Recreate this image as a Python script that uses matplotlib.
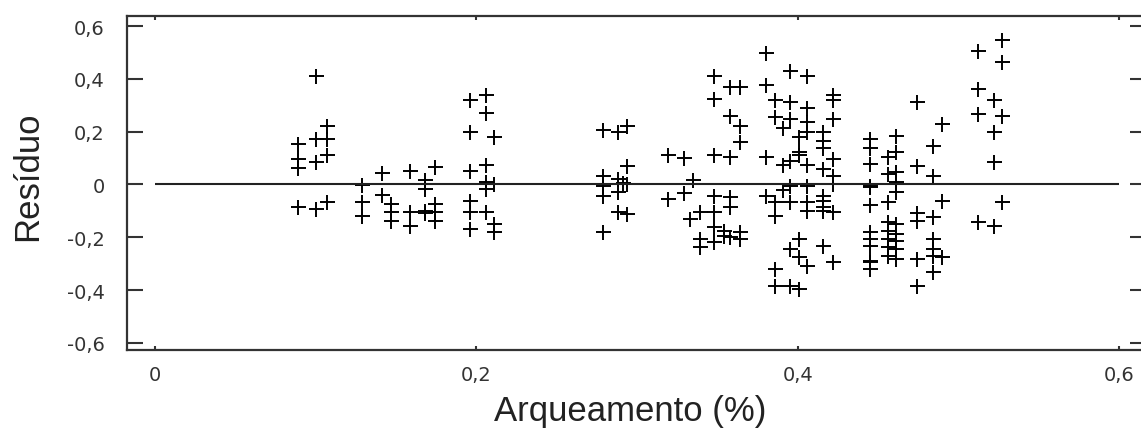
import numpy as np
import matplotlib
matplotlib.use("Agg")
import matplotlib.pyplot as plt

# residues grouped by arching column (x value, list of residues)
col_x = [0.089, 0.100, 0.107, 0.129, 0.141, 0.147, 0.159, 0.168, 0.174,
         0.196, 0.206, 0.211,
         0.279, 0.288, 0.291, 0.294,
         0.319, 0.329, 0.333, 0.335, 0.339, 0.348, 0.354, 0.358, 0.364,
         0.380, 0.386, 0.391, 0.395, 0.401, 0.406, 0.416, 0.422,
         0.445, 0.456, 0.461, 0.474, 0.484, 0.490,
         0.512, 0.522, 0.527]
col_res = [
    [0.153, 0.097, 0.061, -0.086],
    [0.412, 0.172, 0.086, -0.093],
    [0.223, 0.172, 0.112, -0.067],
    [-0.002, -0.065, -0.120],
    [0.044, -0.040],
    [-0.074, -0.105, -0.137],
    [0.050, -0.105, -0.156],
    [0.015, -0.017, -0.099, -0.110],
    [0.067, -0.074, -0.105, -0.137],
    [0.318, 0.198, 0.050, -0.063, -0.103, -0.167],
    [0.337, 0.270, 0.072, 0.008, -0.017, -0.105],
    [0.179, 0.002, -0.150, -0.179],
    [0.207, 0.033, -0.004, -0.042, -0.181],
    [0.200, 0.021, -0.027, -0.105],
    [0.007],
    [0.223, 0.071, 0.002, -0.112],
    [0.110, -0.055],
    [0.101, -0.034],
    [-0.131],
    [0.015],
    [-0.105, -0.206, -0.238],
    [0.412, 0.325, 0.110, -0.042, -0.105, -0.162, -0.219],
    [-0.175, -0.194],
    [0.368, 0.258, 0.103, -0.048, -0.085, -0.200],
    [0.368, 0.223, 0.160, -0.181, -0.206],
    [0.498, 0.378, 0.103, -0.042],
    [0.318, 0.255, -0.067, -0.118, -0.320, -0.383],
    [0.213, 0.072, -0.020],
    [0.431, 0.311, 0.248, 0.087, -0.004, -0.067, -0.244, -0.386],
    [0.179, 0.122, 0.112, -0.206, -0.276, -0.396],
    [0.410, 0.290, 0.238, 0.198, 0.074, -0.004, -0.067, -0.102, -0.310],
    [0.198, 0.166, 0.137, 0.059, -0.042, -0.061, -0.086, -0.100, -0.234],
    [0.337, 0.321, 0.248, 0.097, 0.033, 0.002, -0.105, -0.292],
    [0.172, 0.137, 0.076, -0.004, -0.011, -0.077, -0.180, -0.206, -0.232, -0.289, -0.295, -0.320],
    [0.103, 0.040, -0.067, -0.143, -0.175, -0.206, -0.238, -0.270],
    [0.185, 0.122, 0.046, 0.008, -0.030, -0.150, -0.187, -0.213, -0.244, -0.282],
    [0.311, 0.071, -0.108, -0.140, -0.282, -0.383],
    [0.147, 0.033, -0.124, -0.206, -0.244, -0.270, -0.333],
    [0.229, -0.061, -0.276],
    [0.507, 0.362, 0.267, -0.143],
    [0.318, 0.198, 0.086, -0.156],
    [0.548, 0.463, 0.258, -0.067],
]

x_ticks = [0, 0.2, 0.4, 0.6]
x_labels = ["0", "0,2", "0,4", "0,6"]
y_ticks = [-0.6, -0.4, -0.2, 0, 0.2, 0.4, 0.6]
y_labels = ["-0,6", "-0,4", "-0,2", "0", "0,2", "0,4", "0,6"]

xs = np.concatenate([[cx] * len(r) for cx, r in zip(col_x, col_res)])
ys = np.concatenate(col_res)

W, H = 1141, 439
fig = plt.figure(figsize=(W / 100, H / 100), dpi=100)
ax = fig.add_axes([127 / W, 88 / H, (1146 - 127) / W, (351 - 17) / H])

ax.plot(xs, ys, linestyle="none", marker="+", color="black",
        markersize=10.8, markeredgewidth=1.4)
ax.hlines(0, 0, 0.6, color="#222222", linewidth=1.5)

ax.set_xlim(-0.0174, 0.6167)
ax.set_ylim(-0.627, 0.638)
for s in ax.spines.values():
    s.set_linewidth(1.6)
    s.set_color("#333333")

ax.set_xticks(x_ticks)
ax.set_xticklabels(x_labels)
ax.set_yticks(y_ticks)
ax.set_yticklabels(y_labels)
ax.tick_params(axis="y", direction="in", length=11.5, width=1.5, color="#333333",
               left=True, right=True, pad=16, labelsize=14)
ax.tick_params(axis="x", direction="in", length=3, width=1.5, color="#333333",
               bottom=True, top=True, pad=11, labelsize=14)
for lab in ax.get_xticklabels() + ax.get_yticklabels():
    lab.set_color("#333333")

fig.text(630 / W, 1 - 412 / H, "Arqueamento (%)", ha="center", va="center",
         fontsize=25, family="Liberation Sans", color="#222222")
fig.text(28 / W, 1 - 176 / H, "Resíduo", ha="center", va="center",
         rotation=90, fontsize=25, family="Liberation Sans", color="#222222")

fig.savefig("out.png", dpi=100)
